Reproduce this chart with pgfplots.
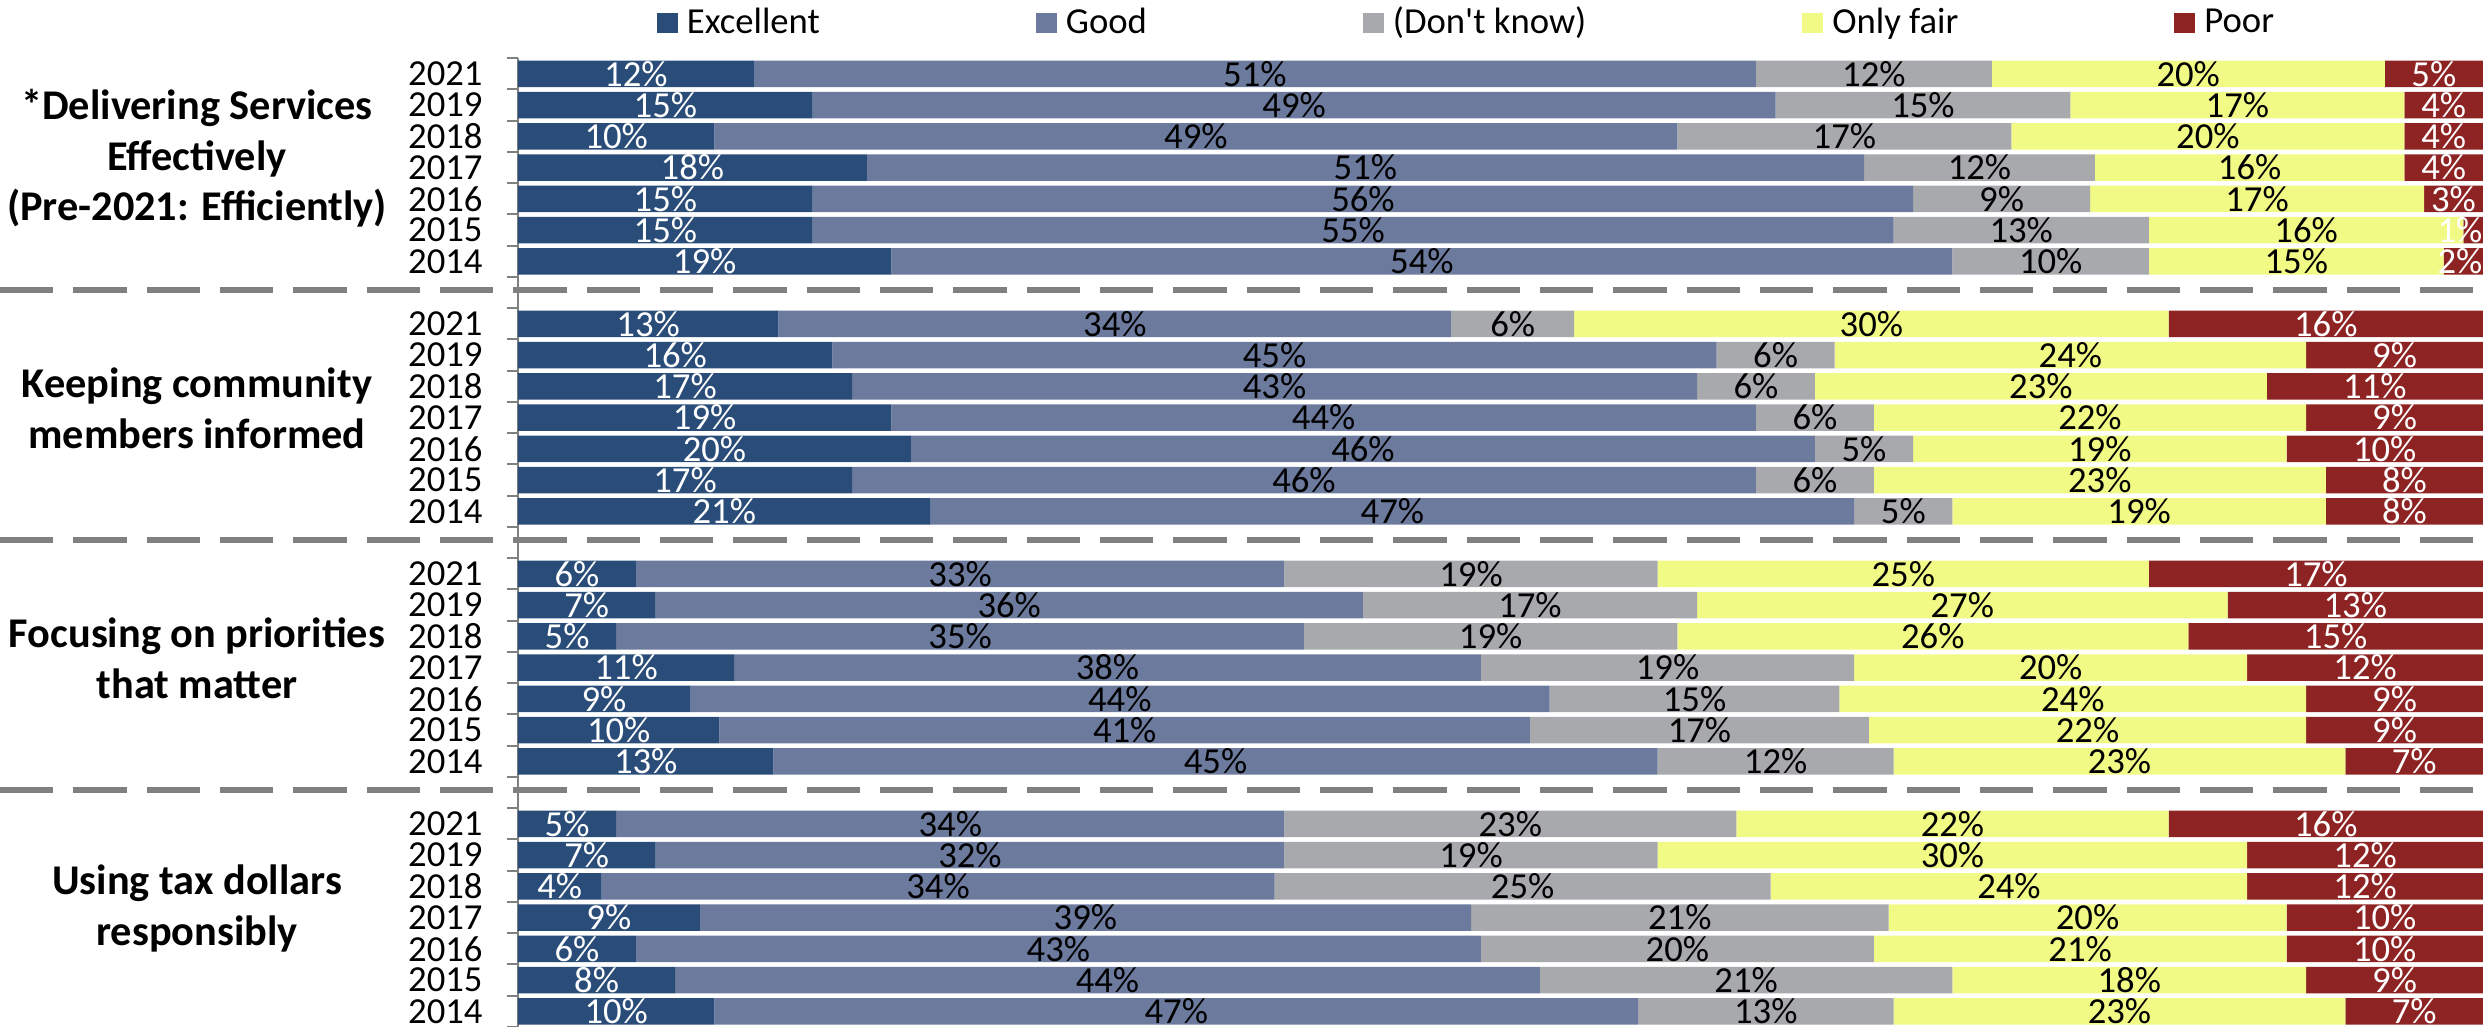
\documentclass[border=0pt]{standalone}
\usepackage{pgfplots}
\pgfplotsset{compat=1.18}
\usepackage{pgfplotstable}
\usepackage{fontspec}
\setmainfont{Carlito}
\definecolor{cExc}{RGB}{41,76,120}
\definecolor{cGood}{RGB}{108,122,158}
\definecolor{cDK}{RGB}{168,169,173}
\definecolor{cFair}{RGB}{242,250,134}
\definecolor{cPoor}{RGB}{142,35,35}
\definecolor{cAxis}{RGB}{128,128,128}

% y: 30 = first row (2021 of group 1) ... 0 = last row (2014 of group 4)
\pgfplotstableread{
y exc good dk fair poor
30 12 51 12 20 5
29 15 49 15 17 4
28 10 49 17 20 4
27 17.75 50.75 11.75 15.75 4
26 15 56 9 17 3
25 15 55 13 16 1
24 19 54 10 15 2
22 13.25 34.25 6.25 30.25 16
21 16 45 6 24 9
20 17 43 6 23 11
19 19 44 6 22 9
18 20 46 5 19 10
17 17 46 6 23 8
16 21 47 5 19 8
14 6 33 19 25 17
13 7 36 17 27 13
12 5 35 19 26 15
11 11 38 19 20 12
10 8.75 43.75 14.75 23.75 9
9 10.25 41.25 17.25 22.25 9
8 13 45 12 23 7
6 5 34 23 22 16
5 7 32 19 30 12
4 4.25 34.25 25.25 24.25 12
3 9.25 39.25 21.25 20.25 10
2 6 43 20 21 10
1 8 44 21 18 9
0 10 47 13 23 7
}\datatable

\begin{document}
\begin{tikzpicture}
\begin{axis}[
  at={(0pt,0pt)}, anchor=south west,
  x=5.895pt, y=9.375pt,
  xmin=0, xmax=100, ymin=-0.5, ymax=30.5,
  xbar stacked, bar width=8pt,
  clip=false,
  axis x line=none,
  axis y line*=left,
  y axis line style={draw=cAxis, line width=0.6pt},
  ytick={0,1,2,3,4,5,6,8,9,10,11,12,13,14,16,17,18,19,20,21,22,24,25,26,27,28,29,30},
  yticklabels={2014,2015,2016,2017,2018,2019,2021,2014,2015,2016,2017,2018,2019,2021,2014,2015,2016,2017,2018,2019,2021,2014,2015,2016,2017,2018,2019,2021},
  minor ytick={-0.5,0.5,...,30.5},
  major tick length=0pt,
  minor tick length=3.3pt,
  tick align=outside,
  ytick pos=left,
  tick style={draw=cAxis, line width=0.6pt},
  yticklabel style={font=\fontsize{11}{13}\selectfont, xshift=-7.1pt},
  /pgf/number format/assume math mode=true,
  every axis plot/.append style={draw=none},
  point meta=explicit symbolic,
  nodes near coords={\makebox[0pt]{\pgfmathprintnumber[fixed,precision=0]{\pgfplotspointmeta}\%}},
  every node near coord/.append style={font=\fontsize{11}{13}\selectfont, inner sep=0pt},
  legend columns=5,
  legend style={at={(0.0707,1.0365)}, anchor=west, draw=none, fill=none,
    inner sep=0pt, outer sep=0pt, font=\fontsize{11}{13}\selectfont,
    nodes={inner sep=1.5pt},
    /tikz/every even column/.append style={column sep=63.3pt},
    /tikz/every odd column/.append style={column sep=1.2pt}},
  legend image code/.code={\fill[#1] (0pt,-3.1pt) rectangle (6.3pt,3.1pt);},
]
\addplot[fill=cExc, every node near coord/.append style={text=white}] table[x=exc,y=y,meta=exc]{\datatable};
\addplot[fill=cGood, every node near coord/.append style={text=black}] table[x=good,y=y,meta=good]{\datatable};
\addplot[fill=cDK, every node near coord/.append style={text=black}] table[x=dk,y=y,meta=dk]{\datatable};
\addplot[fill=cFair, every node near coord/.append style={text=black}] table[x=fair,y=y,meta=fair]{\datatable};
\addplot[fill=cPoor, every node near coord/.append style={text=white, xshift={min(0,\pgfplotspointmeta*2.9475-6.9)}}] table[x=poor,y=y,meta=poor]{\datatable};
\legend{Excellent,Good,(Don\textquotesingle t know),Only fair,Poor}

\draw[cAxis, line width=1.8pt, dash pattern=on 16pt off 6pt] ([xshift=-155.4pt]axis cs:0,23.08) -- (axis cs:100,23.08);
\draw[cAxis, line width=1.8pt, dash pattern=on 16pt off 6pt] ([xshift=-155.4pt]axis cs:0,15.08) -- (axis cs:100,15.08);
\draw[cAxis, line width=1.8pt, dash pattern=on 16pt off 6pt] ([xshift=-155.4pt]axis cs:0,7.07) -- (axis cs:100,7.07);
\node[align=center, font=\bfseries\fontsize{12.7}{15.2}\selectfont] at ([xshift=-96.3pt]axis cs:0,27.3) {*Delivering Services\\Effectively\\(Pre-2021: Efficiently)};
\node[align=center, font=\bfseries\fontsize{12.7}{15.2}\selectfont] at ([xshift=-96.3pt]axis cs:0,19.3) {Keeping community\\members informed};
\node[align=center, font=\bfseries\fontsize{12.7}{15.2}\selectfont] at ([xshift=-96.3pt]axis cs:0,11.3) {Focusing on priorities\\that matter};
\node[align=center, font=\bfseries\fontsize{12.7}{15.2}\selectfont] at ([xshift=-96.3pt]axis cs:0,3.3) {Using tax dollars\\responsibly};
\end{axis}
\pgfresetboundingbox
\path (-155.4pt,0pt) rectangle (589.5pt,308.1pt);
\end{tikzpicture}
\end{document}
